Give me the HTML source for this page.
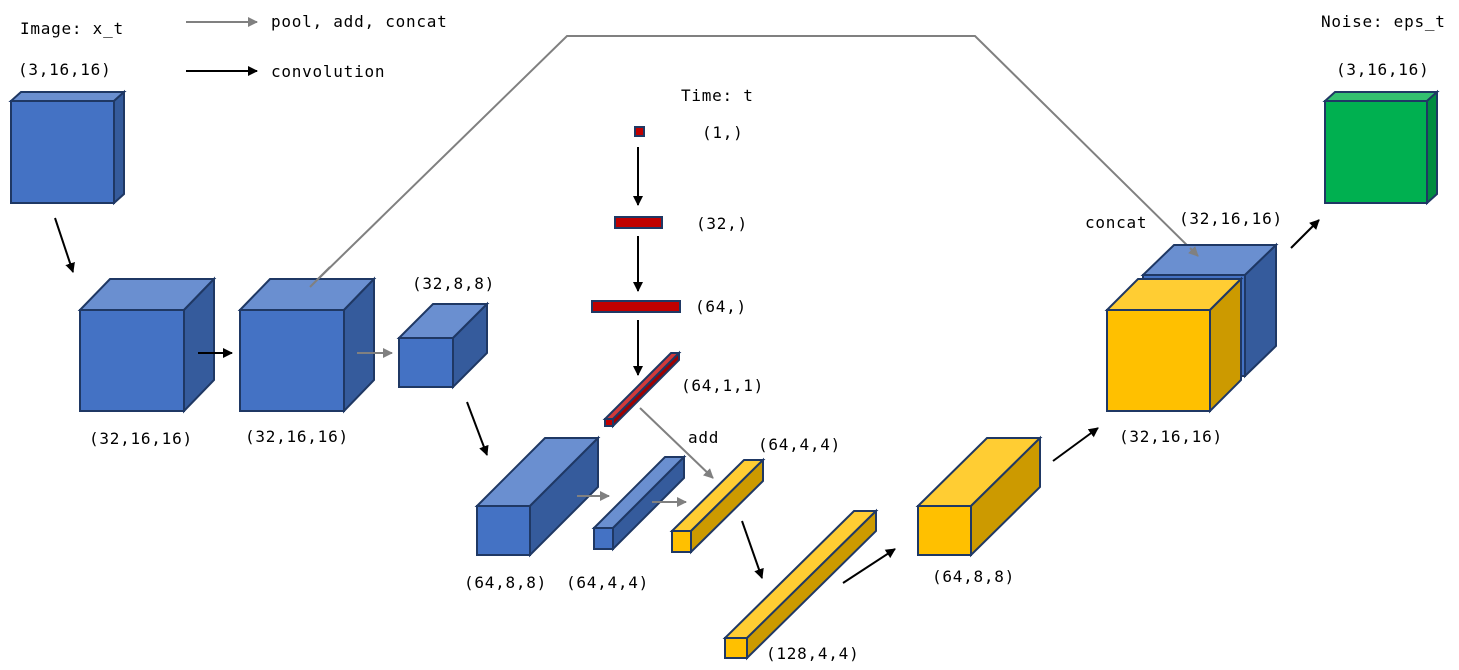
<!DOCTYPE html>
<html><head><meta charset="utf-8"><style>
html,body{margin:0;padding:0;background:#fff;}
svg{display:block;}
text{font-family:"DejaVu Sans Mono","Liberation Mono",monospace;font-size:16px;letter-spacing:0.75px;fill:#000;}
.b polygon,.b rect,.y polygon,.y rect,.g polygon,.g rect,.r polygon,.r rect{stroke:#1F3864;stroke-width:2;stroke-linejoin:miter;}
.b .f{fill:#4472C4}.b .t{fill:#6A8FD0}.b .s{fill:#355B9C}
.y .f{fill:#FFC000}.y .t{fill:#FFCD33}.y .s{fill:#CC9A00}
.g .f{fill:#00B050}.g .t{fill:#33C070}.g .s{fill:#008C40}
.r .f{fill:#C00000}.r .t{fill:#D23A3A}.r .s{fill:#A00000}
</style></head><body>
<svg width="1459" height="670" viewBox="0 0 1459 670" xmlns="http://www.w3.org/2000/svg">
<defs>
<marker id="ak" markerWidth="10" markerHeight="10" refX="9" refY="5" orient="auto" markerUnits="userSpaceOnUse"><path d="M0,0 L10,5 L0,10 z" fill="#000"/></marker>
<marker id="ag" markerWidth="10" markerHeight="10" refX="9" refY="5" orient="auto" markerUnits="userSpaceOnUse"><path d="M0,0 L10,5 L0,10 z" fill="#808080"/></marker>
</defs>

<!-- skip connection -->
<polyline points="310,287 567,36 975,36 1198,256" fill="none" stroke="#808080" stroke-width="2"/>

<!-- cubes -->
<g class="b"><rect class="f" x="11" y="101" width="103" height="102"/><polygon class="t" points="11,101 21,92 124,92 114,101"/><polygon class="s" points="114,101 124,92 124,194 114,203"/></g>
<g class="b"><rect class="f" x="80" y="310" width="104" height="101"/><polygon class="t" points="80,310 110,279 214,279 184,310"/><polygon class="s" points="184,310 214,279 214,380 184,411"/></g>
<g class="b"><rect class="f" x="240" y="310" width="104" height="101"/><polygon class="t" points="240,310 270,279 374,279 344,310"/><polygon class="s" points="344,310 374,279 374,380 344,411"/></g>
<polyline points="310,287 330,267" fill="none" stroke="#808080" stroke-width="2"/>
<g class="b"><rect class="f" x="399" y="338" width="54" height="49"/><polygon class="t" points="399,338 433,304 487,304 453,338"/><polygon class="s" points="453,338 487,304 487,353 453,387"/></g>
<g class="b"><rect class="f" x="477" y="506" width="53" height="49"/><polygon class="t" points="477,506 545,438 598,438 530,506"/><polygon class="s" points="530,506 598,438 598,487 530,555"/></g>
<g class="b"><rect class="f" x="594" y="528" width="19" height="21"/><polygon class="t" points="594,528 665,457 684,457 613,528"/><polygon class="s" points="613,528 684,457 684,478 613,549"/></g>
<g class="y"><rect class="f" x="672" y="531" width="19" height="21"/><polygon class="t" points="672,531 744,460 763,460 691,531"/><polygon class="s" points="691,531 763,460 763,481 691,552"/></g>
<g class="y"><rect class="f" x="725" y="638" width="22" height="20"/><polygon class="t" points="725,638 854,511 876,511 747,638"/><polygon class="s" points="747,638 876,511 876,531 747,658"/></g>
<g class="y"><rect class="f" x="918" y="506" width="53" height="49"/><polygon class="t" points="918,506 987,438 1040,438 971,506"/><polygon class="s" points="971,506 1040,438 1040,487 971,555"/></g>
<g class="b"><rect class="f" x="1143" y="275" width="102" height="101"/><polygon class="t" points="1143,275 1174,245 1276,245 1245,275"/><polygon class="s" points="1245,275 1276,245 1276,346 1245,376"/></g>
<line x1="1190" y1="248" x2="1198" y2="256" stroke="#808080" stroke-width="2" marker-end="url(#ag)"/>
<g class="y"><rect class="f" x="1107" y="310" width="103" height="101"/><polygon class="t" points="1107,310 1138,279 1241,279 1210,310"/><polygon class="s" points="1210,310 1241,279 1241,380 1210,411"/></g>
<g class="g"><rect class="f" x="1325" y="101" width="102" height="102"/><polygon class="t" points="1325,101 1335,92 1437,92 1427,101"/><polygon class="s" points="1427,101 1437,92 1437,194 1427,203"/></g>

<!-- red time path -->
<g class="r"><rect class="f" x="635" y="127" width="9" height="9"/></g>
<g class="r"><rect class="f" x="615" y="217" width="47" height="11"/></g>
<g class="r"><rect class="f" x="592" y="301" width="88" height="11"/></g>
<g class="r"><rect class="f" x="605" y="419" width="8" height="7"/><polygon class="t" points="605,419 671,353 679,353 613,419"/><polygon class="s" points="613,419 679,353 679,360 613,426"/></g>

<!-- arrows -->
<g stroke="#000" stroke-width="2" marker-end="url(#ak)">
<line x1="186" y1="71" x2="257" y2="71"/>
<line x1="55" y1="218" x2="73" y2="272"/>
<line x1="198" y1="353" x2="232" y2="353"/>
<line x1="467" y1="402" x2="487" y2="455"/>
<line x1="638" y1="147" x2="638" y2="205"/>
<line x1="638" y1="236" x2="638" y2="291"/>
<line x1="638" y1="320" x2="638" y2="375"/>
<line x1="742" y1="521" x2="762" y2="578"/>
<line x1="843" y1="583" x2="895" y2="549"/>
<line x1="1053" y1="461" x2="1098" y2="428"/>
<line x1="1291" y1="248" x2="1319" y2="220"/>
</g>
<g stroke="#808080" stroke-width="2" marker-end="url(#ag)">
<line x1="186" y1="22" x2="257" y2="22"/>
<line x1="357" y1="353" x2="392" y2="353"/>
<line x1="577" y1="496" x2="609" y2="496"/>
<line x1="652" y1="502" x2="686" y2="502"/>
<line x1="640" y1="408" x2="713" y2="478"/>
</g>

<!-- labels -->
<text x="20" y="34">Image: x_t</text>
<text x="18" y="75">(3,16,16)</text>
<text x="271" y="27">pool, add, concat</text>
<text x="271" y="77">convolution</text>
<text x="681" y="101">Time: t</text>
<text x="702" y="138">(1,)</text>
<text x="696" y="229">(32,)</text>
<text x="695" y="312">(64,)</text>
<text x="681" y="391">(64,1,1)</text>
<text x="688" y="443">add</text>
<text x="758" y="450">(64,4,4)</text>
<text x="412" y="289">(32,8,8)</text>
<text x="89" y="444">(32,16,16)</text>
<text x="245" y="442">(32,16,16)</text>
<text x="464" y="588">(64,8,8)</text>
<text x="566" y="588">(64,4,4)</text>
<text x="766" y="659">(128,4,4)</text>
<text x="932" y="582">(64,8,8)</text>
<text x="1119" y="442">(32,16,16)</text>
<text x="1085" y="228">concat</text>
<text x="1179" y="224">(32,16,16)</text>
<text x="1321" y="27">Noise: eps_t</text>
<text x="1336" y="75">(3,16,16)</text>
</svg>
</body></html>
